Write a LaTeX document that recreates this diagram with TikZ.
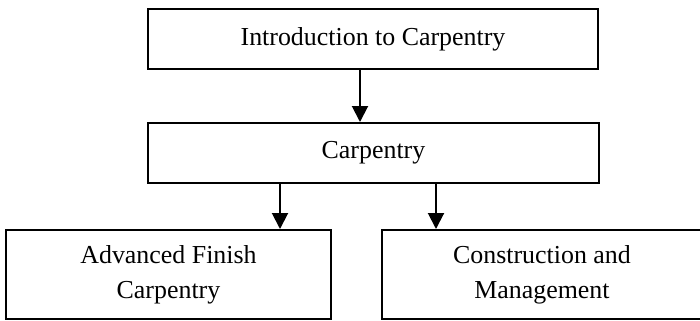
\documentclass[tikz,border=0pt]{standalone}
\usepackage{fontspec}
\setmainfont{Liberation Serif}
\usetikzlibrary{arrows.meta}
\begin{document}
\begin{tikzpicture}[x=1bp,y=-1bp,
  box/.style={draw=black, line width=2bp, inner sep=0pt, align=center,
    font=\fontsize{26}{35}\selectfont},
  arr/.style={line width=2bp, -{Triangle[width=16bp,length=16bp]}}]
\useasboundingbox (0,0) rectangle (700,320);
\node[box, minimum width=450bp, minimum height=60bp] (top) at (373,39) {Introduction to Carpentry};
\node[box, minimum width=451bp, minimum height=60bp] (mid) at (373.5,153) {Carpentry};
\node[box, minimum width=325bp, minimum height=89bp] (bl) at (168.5,274.5) {Advanced Finish\\Carpentry};
\node[box, minimum width=320bp, minimum height=89bp] (br) at (542,274.5) {Construction and\\Management};
\coordinate (c1) at (360,0);
\coordinate (c2) at (280,0);
\coordinate (c3) at (436,0);
\draw[arr] (c1 |- top.south) -- (c1 |- mid.north);
\draw[arr] (c2 |- mid.south) -- (c2 |- bl.north);
\draw[arr] (c3 |- mid.south) -- (c3 |- br.north);
\end{tikzpicture}
\end{document}
